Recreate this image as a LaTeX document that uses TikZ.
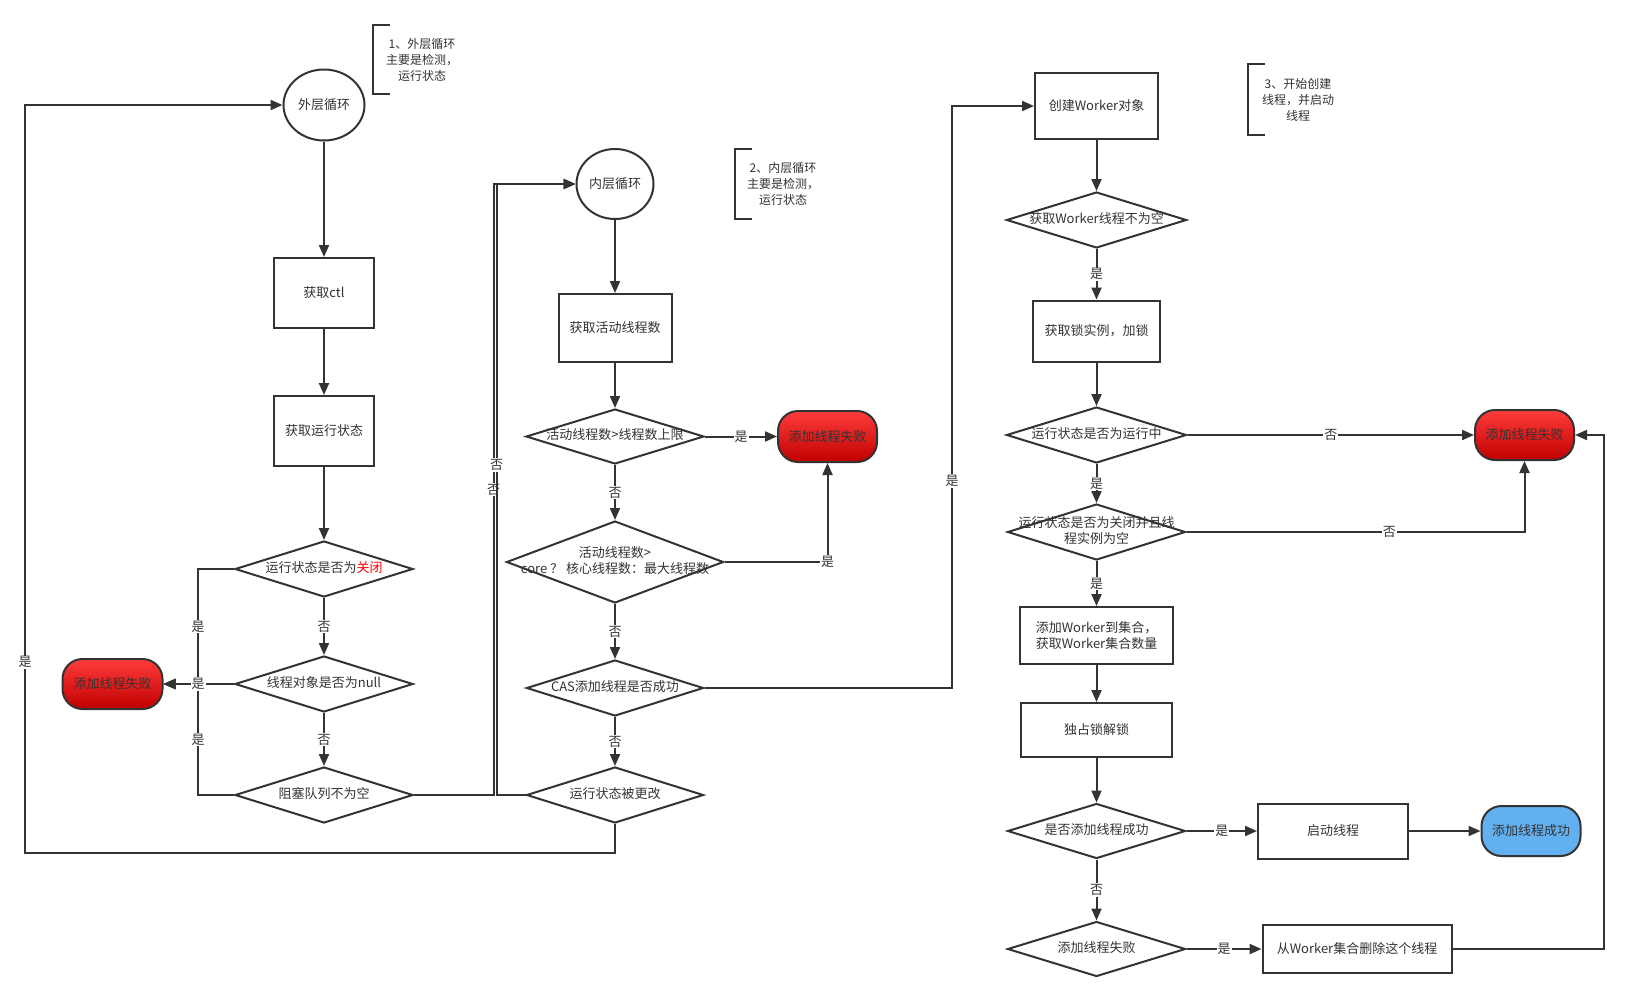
\documentclass[tikz,border=0pt]{standalone}
\usepackage{fontspec}
\setmainfont{Noto Sans CJK SC}
\usetikzlibrary{shapes.geometric,arrows.meta,calc}
\definecolor{lc}{HTML}{333333}
\definecolor{tc}{HTML}{333333}
\definecolor{redtop}{HTML}{FF3C3C}
\definecolor{redbot}{HTML}{C00000}
\definecolor{okblue}{HTML}{62B0F0}
\newcommand{\dtext}[1]{\makebox[0pt]{\begin{tabular}{@{}c@{}}#1\end{tabular}}}
\tikzset{
  basebox/.style={draw=lc, line width=2pt, text=tc, font=\fontsize{13}{16}\selectfont, inner sep=0pt, align=center},
  proc/.style={basebox, rectangle},
  dec/.style={basebox, diamond},
  loopc/.style={basebox, ellipse},
  failn/.style={basebox, rectangle, rounded corners=20pt, top color=redtop, bottom color=redbot},
  okn/.style={basebox, rectangle, rounded corners=20pt, fill=okblue},
  edge/.style={draw=lc, line width=2pt, -{Triangle[length=12pt,width=10pt]}},
  plain/.style={draw=lc, line width=2pt},
  lbl/.style={fill=white, text=tc, font=\fontsize{13}{13}\selectfont, inner sep=1pt},
  note/.style={text=tc, font=\fontsize{12}{16}\selectfont, align=center, inner sep=0pt}
}
\begin{document}
\begin{tikzpicture}[x=1pt,y=-1pt]
\useasboundingbox (0,0) rectangle (1629,1002);
\fill[white] (0,0) rectangle (1629,1002);

% ---------- left column ----------
\node[loopc, minimum width=81pt, minimum height=71pt] (outer) at (324,105) {外层循环};
\node[note] (n1) at (422,60) {1、外层循环\\主要是检测，\\运行状态};
\draw[plain] (390,25) -- (373,25) -- (373,94) -- (390,94);
\node[proc, minimum width=100pt, minimum height=70pt] (ctl) at (324,293) {获取ctl};
\node[proc, minimum width=100pt, minimum height=70pt] (state) at (324,431) {获取运行状态};
\node[dec, minimum width=178pt, minimum height=56pt] (d1) at (324,569) {\dtext{运行状态是否为\textcolor{red}{关闭}}};
\node[dec, minimum width=178pt, minimum height=56pt] (d2) at (324,684) {\dtext{线程对象是否为null}};
\node[dec, minimum width=178pt, minimum height=56pt] (d3) at (324,795) {\dtext{阻塞队列不为空}};
\node[failn, minimum width=100pt, minimum height=50pt] (fail1) at (112.5,684) {添加线程失败};
\coordinate (j1) at (198,684);
\coordinate (lb) at (25,853);

% ---------- middle column ----------
\node[loopc, minimum width=77pt, minimum height=70pt] (inner) at (615,184) {内层循环};
\node[note] (n2) at (783,184) {2、内层循环\\主要是检测，\\运行状态};
\draw[plain] (752,149) -- (735,149) -- (735,219) -- (752,219);
\node[proc, minimum width=113pt, minimum height=68pt] (active) at (615,328) {获取活动线程数};
\node[dec, minimum width=178pt, minimum height=55pt] (d5) at (615,436.5) {\dtext{活动线程数>线程数上限}};
\node[failn, minimum width=99pt, minimum height=51pt] (fail2) at (827.5,436.5) {添加线程失败};
\node[dec, minimum width=217pt, minimum height=82pt] (d6) at (615,562) {\dtext{活动线程数>\\core ？ 核心线程数：最大线程数}};
\node[dec, minimum width=177pt, minimum height=56pt] (cas) at (615,688) {\dtext{CAS添加线程是否成功}};
\node[dec, minimum width=177pt, minimum height=56pt] (d4) at (615,795) {\dtext{运行状态被更改}};
\coordinate (vA) at (493.5,795);
\coordinate (vB) at (496.5,795);
\coordinate (wx) at (952,688);

% ---------- right column ----------
\node[proc, minimum width=123pt, minimum height=66pt] (worker) at (1096.5,106) {创建Worker对象};
\node[note] (n3) at (1298,100) {3、开始创建\\线程，并启动\\线程};
\draw[plain] (1265,64) -- (1248,64) -- (1248,135) -- (1265,135);
\node[dec, minimum width=180pt, minimum height=56pt] (d7) at (1096.5,220) {\dtext{获取Worker线程不为空}};
\node[proc, minimum width=127pt, minimum height=61pt] (lock) at (1096.5,331) {获取锁实例，加锁};
\node[dec, minimum width=180pt, minimum height=56pt] (d8) at (1096.5,435) {\dtext{运行状态是否为运行中}};
\node[failn, minimum width=99pt, minimum height=50pt] (fail3) at (1524.5,435) {添加线程失败};
\node[dec, minimum width=178pt, minimum height=56pt] (d9) at (1096.5,532) {\dtext{运行状态是否为关闭并且线\\程实例为空}};
\node[proc, minimum width=153pt, minimum height=57pt] (add) at (1096.5,635.5) {添加Worker到集合，\\获取Worker集合数量};
\node[proc, minimum width=151pt, minimum height=54pt] (unlock) at (1096.5,730) {独占锁解锁};
\node[dec, minimum width=178pt, minimum height=55pt] (d10) at (1096.5,831) {\dtext{是否添加线程成功}};
\node[proc, minimum width=150pt, minimum height=55pt] (start) at (1333,831) {启动线程};
\node[okn, minimum width=99pt, minimum height=50pt] (ok) at (1531,831) {添加线程成功};
\node[dec, minimum width=178pt, minimum height=55pt] (d11) at (1096.5,949) {\dtext{添加线程失败}};
\node[proc, minimum width=189pt, minimum height=48pt] (remove) at (1357,949) {从Worker集合删除这个线程};
\coordinate (rx) at (1604,949);

% ---------- connectors: left ----------
\draw[edge] (outer) -- (ctl);
\draw[edge] (ctl) -- (state);
\draw[edge] (state) -- (d1);
\draw[edge] (d1) -- node[lbl]{否} (d2);
\draw[edge] (d2) -- node[lbl]{否} (d3);
\draw[edge] (d1.west) -- (d1.west -| j1) -- node[lbl]{是} (j1) -- (fail1.east);
\draw[edge] (d3.west) -- (d3.west -| j1) -- node[lbl]{是} (j1) -- (fail1.east);
\draw[edge] (d2.west) -- (j1) node[lbl]{是} -- (fail1.east);
\draw[edge] (d3.east) -- (vA) -- node[lbl, pos=0.5]{否} (vA |- inner.west) -- (inner.west);
\draw[edge] (d4.west) -- (vB) -- node[lbl, pos=0.54]{否} (vB |- inner.west) -- (inner.west);
\draw[edge] (d4.south) -- (d4.south |- lb) -- (lb) -- node[lbl, pos=0.255]{是} (lb |- outer.west) -- (outer.west);

% ---------- connectors: middle ----------
\draw[edge] (inner) -- (active);
\draw[edge] (active) -- (d5);
\draw[edge] (d5.east) -- node[lbl]{是} (fail2.west);
\draw[edge] (d5) -- node[lbl]{否} (d6);
\draw[edge] (d6.east) -| node[lbl, pos=0.5]{是} (fail2.south);
\draw[edge] (d6) -- node[lbl]{否} (cas);
\draw[edge] (cas) -- node[lbl]{否} (d4);
\draw[edge] (cas.east) -- (wx) -- node[lbl, pos=0.356]{是} (wx |- worker.west) -- (worker.west);

% ---------- connectors: right ----------
\draw[edge] (worker) -- (d7);
\draw[edge] (d7) -- node[lbl]{是} (lock);
\draw[edge] (lock) -- (d8);
\draw[edge] (d8.east) -- node[lbl]{否} (fail3.west);
\draw[edge] (d8) -- node[lbl]{是} (d9);
\draw[edge] (d9.east) -| node[lbl, pos=0.3]{否} (fail3.south);
\draw[edge] (d9) -- node[lbl]{是} (add);
\draw[edge] (add) -- (unlock);
\draw[edge] (unlock) -- (d10);
\draw[edge] (d10.east) -- node[lbl]{是} (start.west);
\draw[edge] (start) -- (ok);
\draw[edge] (d10) -- node[lbl]{否} (d11);
\draw[edge] (d11.east) -- node[lbl]{是} (remove.west);
\draw[edge] (remove.east) -- (rx) -- (rx |- fail3.east) -- (fail3.east);
\end{tikzpicture}
\end{document}
